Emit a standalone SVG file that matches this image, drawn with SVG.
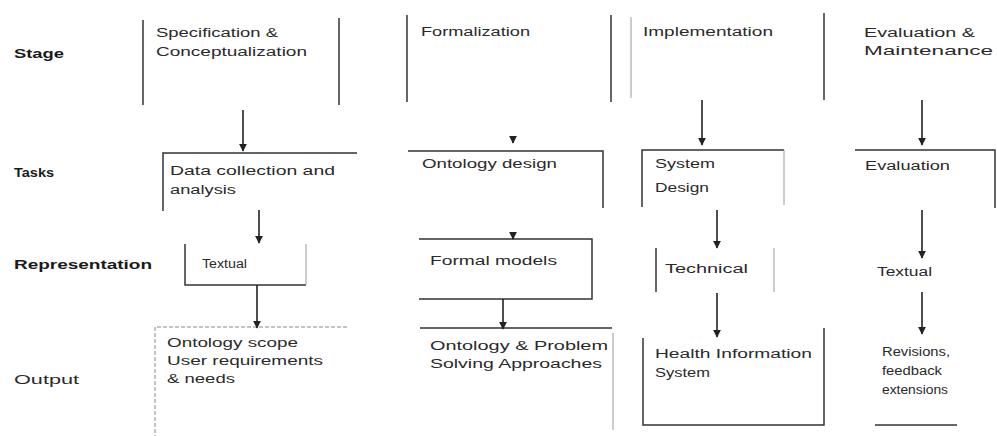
<svg xmlns="http://www.w3.org/2000/svg" width="997" height="436" viewBox="0 0 997 436">
<style>
text{font-family:"Liberation Sans",Arial,sans-serif;font-size:12px;fill:#2a2a2a}
.lab{font-weight:bold;fill:#1a1a1a}
.ln{stroke:#333;stroke-width:1.5;fill:none}
.fl{stroke:#9a9a9a;stroke-width:1;fill:none}
.dl{stroke:#888;stroke-width:1;fill:none;stroke-dasharray:4 2}
.ar{stroke:#222;stroke-width:1.6;fill:none;marker-end:url(#ah)}
</style>
<defs>
<marker id="ah" viewBox="0 0 10 10" refX="9" refY="5" markerWidth="5" markerHeight="5" orient="auto" markerUnits="strokeWidth"><path d="M0,0 L10,5 L0,10 z" fill="#222"/></marker>
</defs>
<rect width="997" height="436" fill="#fff"/>
<g id="labels">
<text class="lab" x="14" y="58" textLength="50" lengthAdjust="spacingAndGlyphs">Stage</text>
<text class="lab" x="14" y="177" textLength="40" lengthAdjust="spacingAndGlyphs">Tasks</text>
<text class="lab" x="14" y="269" textLength="138" lengthAdjust="spacingAndGlyphs">Representation</text>
<text x="14" y="384" textLength="65" lengthAdjust="spacingAndGlyphs">Output</text>
</g>
<g id="stage-spec">
<path class="ln" d="M143,20V105M339,18V105"/>
<text x="156" y="37" textLength="122" lengthAdjust="spacingAndGlyphs">Specification &amp;</text>
<text x="156" y="56" textLength="151" lengthAdjust="spacingAndGlyphs">Conceptualization</text>
</g>
<g id="stage-form">
<path class="ln" d="M407,15V102M611,15V102"/>
<text x="421" y="36" textLength="109" lengthAdjust="spacingAndGlyphs">Formalization</text>
</g>
<g id="stage-impl">
<path class="fl" d="M631,17V98"/>
<path class="ln" d="M824,13V100"/>
<text x="643" y="36" textLength="130" lengthAdjust="spacingAndGlyphs">Implementation</text>
</g>
<g id="stage-eval">
<text x="864" y="37" textLength="111" lengthAdjust="spacingAndGlyphs">Evaluation &amp;</text>
<text x="864" y="55" textLength="129" lengthAdjust="spacingAndGlyphs">Maintenance</text>
</g>
<g id="task-data">
<path class="ln" d="M357,153H163V211"/>
<text x="170" y="175" textLength="165" lengthAdjust="spacingAndGlyphs">Data collection and</text>
<text x="170" y="194" textLength="66" lengthAdjust="spacingAndGlyphs">analysis</text>
</g>
<g id="task-ont">
<path class="ln" d="M408,151H603V208"/>
<text x="422" y="168" textLength="135" lengthAdjust="spacingAndGlyphs">Ontology design</text>
</g>
<g id="task-sys">
<path class="ln" d="M784,150H642V207"/>
<path class="fl" d="M784,150V205"/>
<text x="655" y="168" textLength="60" lengthAdjust="spacingAndGlyphs">System</text>
<text x="655" y="192" textLength="54" lengthAdjust="spacingAndGlyphs">Design</text>
</g>
<g id="task-eval">
<path class="ln" d="M855,150H995V208"/>
<text x="865" y="170" textLength="85" lengthAdjust="spacingAndGlyphs">Evaluation</text>
</g>
<g id="rep-textual1">
<path class="ln" d="M185,244V285H306"/>
<path class="fl" d="M306,244V285"/>
<text x="202" y="268" textLength="45" lengthAdjust="spacingAndGlyphs">Textual</text>
</g>
<g id="rep-formal">
<path class="ln" d="M419,239H592V299H419"/>
<text x="430" y="265" textLength="127" lengthAdjust="spacingAndGlyphs">Formal models</text>
</g>
<g id="rep-tech">
<path class="ln" d="M656,248V292"/>
<path class="fl" d="M774,248V292"/>
<text x="665" y="273" textLength="83" lengthAdjust="spacingAndGlyphs">Technical</text>
</g>
<g id="rep-textual2">
<text x="877" y="276" textLength="55" lengthAdjust="spacingAndGlyphs">Textual</text>
</g>
<g id="out-scope">
<path class="dl" d="M347,327H155V436"/>
<text x="167" y="347" textLength="131" lengthAdjust="spacingAndGlyphs">Ontology scope</text>
<text x="167" y="365" textLength="156" lengthAdjust="spacingAndGlyphs">User requirements</text>
<text x="167" y="383" textLength="68" lengthAdjust="spacingAndGlyphs">&amp; needs</text>
</g>
<g id="out-ops">
<path class="ln" d="M420,328H612"/>
<path class="fl" d="M613,333V430"/>
<text x="430" y="350" textLength="178" lengthAdjust="spacingAndGlyphs">Ontology &amp; Problem</text>
<text x="430" y="368" textLength="172" lengthAdjust="spacingAndGlyphs">Solving Approaches</text>
</g>
<g id="out-his">
<path class="ln" d="M643,338V425H824V328"/>
<text x="655" y="358" textLength="157" lengthAdjust="spacingAndGlyphs">Health Information</text>
<text x="655" y="377" textLength="55" lengthAdjust="spacingAndGlyphs">System</text>
</g>
<g id="out-rev">
<path class="ln" d="M875,425H957"/>
<text x="882" y="356" textLength="68" lengthAdjust="spacingAndGlyphs">Revisions,</text>
<text x="882" y="375" textLength="60" lengthAdjust="spacingAndGlyphs">feedback</text>
<text x="882" y="394" textLength="66" lengthAdjust="spacingAndGlyphs">extensions</text>
</g>
<g id="connectors">
<path class="ar" d="M243,110V151"/>
<path class="ar" d="M513,137V143"/>
<path class="ar" d="M702,100V145"/>
<path class="ar" d="M922,100V145"/>
<path class="ar" d="M259,210V243"/>
<path class="ar" d="M513,232V239"/>
<path class="ar" d="M717,210V248"/>
<path class="ar" d="M922,210V258"/>
<path class="ar" d="M257,285V328"/>
<path class="ar" d="M503,299V329"/>
<path class="ar" d="M717,293V337"/>
<path class="ar" d="M922,292V334"/>
</g>
</svg>
